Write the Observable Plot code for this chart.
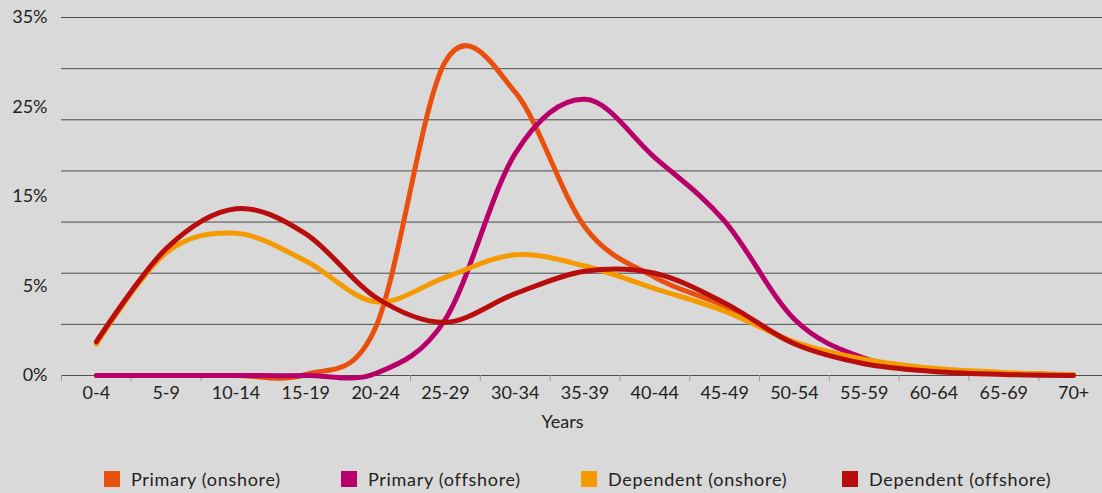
<!DOCTYPE html>
<html>
<head>
<meta charset="utf-8">
<script src="https://cdn.jsdelivr.net/npm/d3@7"></script>
<script src="https://cdn.jsdelivr.net/npm/@observablehq/plot@0.6"></script>
<style>
  html, body { margin: 0; padding: 0; background: #d9d9d9; }
  body { width: 1102px; height: 493px; overflow: hidden; font-family: Lato, "Noto Sans", sans-serif; color: #222; }
  #legend { position: relative; height: 48px; }
  .item { position: absolute; top: 26px; display: flex; align-items: center; font-size: 18px; line-height: 16px; letter-spacing: 0.7px; white-space: nowrap; }
  .swatch { width: 16px; height: 16px; margin-right: 11px; flex: none; }
</style>
</head>
<body>
<div id="chart"></div>
<div id="legend"></div>
<script>
// Age bands along the x axis
const ageGroups = ["0-4", "5-9", "10-14", "15-19", "20-24", "25-29", "30-34", "35-39",
                   "40-44", "45-49", "50-54", "55-59", "60-64", "65-69", "70+"];

// Share of each population in every age band (%)
const primaryOnshore    = [0, 0, 0, 0.1, 4.7, 30.7, 27.7, 14.5, 9.6, 6.8, 3.1, 1.3, 0.5, 0.2, 0.05];
const primaryOffshore   = [0, 0, 0, 0, 0.2, 5.5, 21.7, 27.0, 21.3, 15.1, 5.5, 1.7, 0.6, 0.2, 0.05];
const dependentOnshore  = [3.1, 12.0, 13.9, 11.2, 7.2, 9.6, 11.8, 10.7, 8.5, 6.3, 3.3, 1.6, 0.7, 0.3, 0.1];
const dependentOffshore = [3.3, 12.4, 16.3, 13.85, 7.65, 5.2, 8.0, 10.2, 10.0, 7.1, 3.1, 1.15, 0.4, 0.1, 0];

const seriesNames  = ["Primary (onshore)", "Primary (offshore)", "Dependent (onshore)", "Dependent (offshore)"];
const seriesValues = [primaryOnshore, primaryOffshore, dependentOnshore, dependentOffshore];
const seriesColors = ["#e9500e", "#b8006b", "#f59a00", "#b80d0d"];

// Y axis tick values and their printed labels
const yTickValues = [0, 8.75, 17.5, 26.25, 35];
const yTickLabels = ["0%", "5%", "15%", "25%", "35%"];
const yLabelOf = new Map(yTickValues.map((v, k) => [v, yTickLabels[k]]));

const rows = seriesNames.flatMap((name, s) =>
  seriesValues[s].map((value, i) => ({series: name, i, value})));

const n = ageGroups.length;

const chart = Plot.plot({
  width: 1102,
  height: 445,
  marginTop: 17,
  marginBottom: 70,
  marginLeft: 61,
  marginRight: 0,
  style: {background: "transparent", fontFamily: "Lato, 'Noto Sans', sans-serif", fontSize: "18px", color: "#222"},
  x: {domain: [-0.5, n - 0.5], range: [61, 1108], label: null},
  y: {domain: [0, 35], range: [375, 17], label: null},
  color: {domain: seriesNames, range: seriesColors},
  marks: [
    Plot.ruleY(d3.range(0, 36, 5), {stroke: "#4d4d4d", strokeWidth: 1}),
    Plot.axisY({ticks: yTickValues, tickFormat: v => yLabelOf.get(v), tickSize: 0, tickPadding: 14,
                fontSize: 18, fill: "#222", label: null}),
    Plot.axisX({ticks: d3.range(-0.5, n - 1, 1), tickSize: 6, tickFormat: () => "",
                stroke: "#9a9a9a", label: null}),
    Plot.axisX({ticks: d3.range(n), tickFormat: i => ageGroups[i], tickSize: 0, tickPadding: 11,
                fontSize: 18, fill: "#222", label: null}),
    Plot.text(["Years"], {frameAnchor: "bottom", dy: 52, dx: -19.5, fontSize: 18, fill: "#222"}),
    Plot.line(rows, {x: "i", y: "value", z: "series", stroke: "series", curve: "cardinal",
                     strokeWidth: 5, strokeLinecap: "round", strokeLinejoin: "round"})
  ]
});
document.getElementById("chart").appendChild(chart);

// Legend below the chart
const legendLefts = [104, 341, 581, 842];
const legend = document.getElementById("legend");
seriesNames.forEach((name, s) => {
  const item = document.createElement("div");
  item.className = "item";
  item.style.left = legendLefts[s] + "px";
  const sw = document.createElement("span");
  sw.className = "swatch";
  sw.style.background = seriesColors[s];
  const label = document.createElement("span");
  label.textContent = name;
  item.append(sw, label);
  legend.appendChild(item);
});
</script>
</body>
</html>
